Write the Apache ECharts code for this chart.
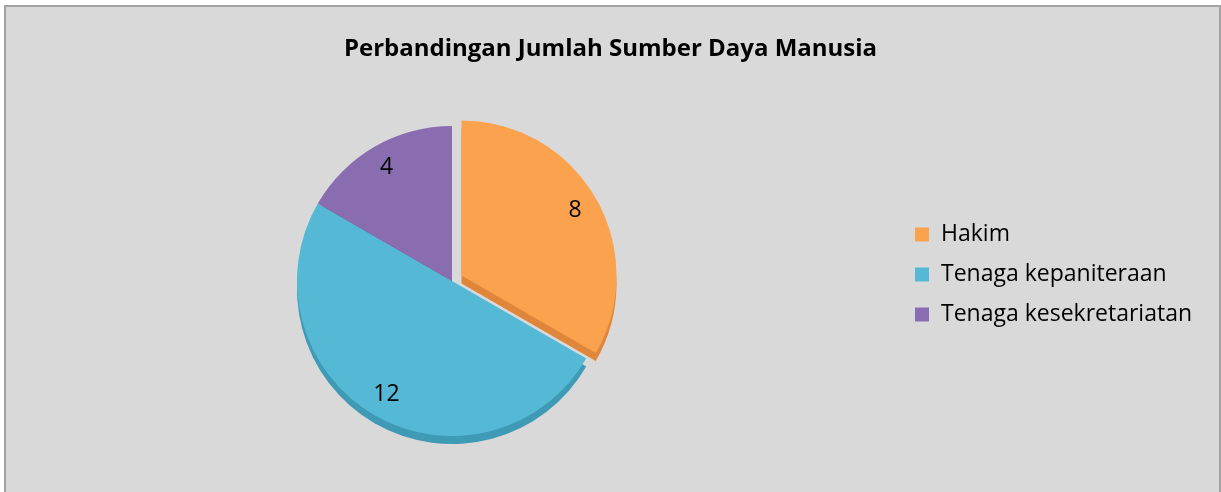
<!DOCTYPE html>
<html>
<head>
<meta charset="utf-8">
<title>Perbandingan Jumlah Sumber Daya Manusia</title>
<script src="https://cdn.jsdelivr.net/npm/echarts@6/dist/echarts.min.js"></script>
<style>
  html, body { margin: 0; padding: 0; background: #fff; }
  .frame {
    position: absolute; left: 4px; top: 5px;
    width: 1213px; height: 500px;
    border: 2px solid #a3a3a3;
    background: #d9d9d9;
  }
  #chart { position: absolute; left: 0; top: 0; width: 1221px; height: 492px; }
</style>
</head>
<body>
<div class="frame"></div>
<div id="chart"></div>
<script>
  // data
  const categories = ['Hakim', 'Tenaga kepaniteraan', 'Tenaga kesekretariatan']
  const values = [8, 12, 4]
  const topColors = ['#fba24f', '#55b9d6', '#8a6db0']
  const sideColors = ['#e0863a', '#3f9ab6', '#70569a']

  const center = [452, 281]
  const radius = 155
  const depth = 8

  function items(colors) {
    return categories.map((name, i) => ({
      name: name,
      value: values[i],
      selected: i === 0,
      itemStyle: { color: colors[i] }
    }))
  }

  const base = {
    type: 'pie',
    startAngle: 90,
    clockwise: true,
    selectedMode: 'single',
    selectedOffset: 11,
    animation: false,
    silent: true,
    emphasis: { disabled: true },
    labelLine: { show: false }
  }

  const chart = echarts.init(document.getElementById('chart'), null, { renderer: 'canvas' })
  chart.setOption({
    backgroundColor: 'transparent',
    title: {
      text: 'Perbandingan Jumlah Sumber Daya Manusia',
      left: 'center',
      top: 32,
      textStyle: { fontFamily: 'Open Sans', fontWeight: 'bold', fontSize: 24, color: '#000' }
    },
    legend: {
      orient: 'vertical',
      left: 910,
      top: 218,
      itemWidth: 14,
      itemHeight: 14,
      itemGap: 17,
      icon: 'rect',
      data: categories,
      selectedMode: false,
      textStyle: { fontFamily: 'Open Sans', fontSize: 23, color: '#000', padding: [0, 0, 0, 7] }
    },
    series: [
      // top surface (first so the legend takes its colours)
      Object.assign({}, base, {
        name: 'Jumlah',
        z: 2,
        center: center,
        radius: [0, radius],
        label: { show: false },
        data: items(topColors)
      }),
      // side (depth) layer
      Object.assign({}, base, {
        name: 'side',
        z: 1,
        center: [center[0], center[1] + depth],
        radius: [0, radius],
        label: { show: false },
        data: items(sideColors)
      }),
      // labels ring (transparent)
      Object.assign({}, base, {
        name: 'label',
        z: 3,
        center: center,
        radius: [101, radius],
        label: {
          show: true,
          position: 'inside',
          formatter: '{c}',
          fontFamily: 'Open Sans',
          fontSize: 23,
          color: '#000'
        },
        data: categories.map((name, i) => ({
          name: name, value: values[i], selected: i === 0,
          itemStyle: { color: 'rgba(0,0,0,0)' }
        }))
      })
    ]
  })
</script>
</body>
</html>
